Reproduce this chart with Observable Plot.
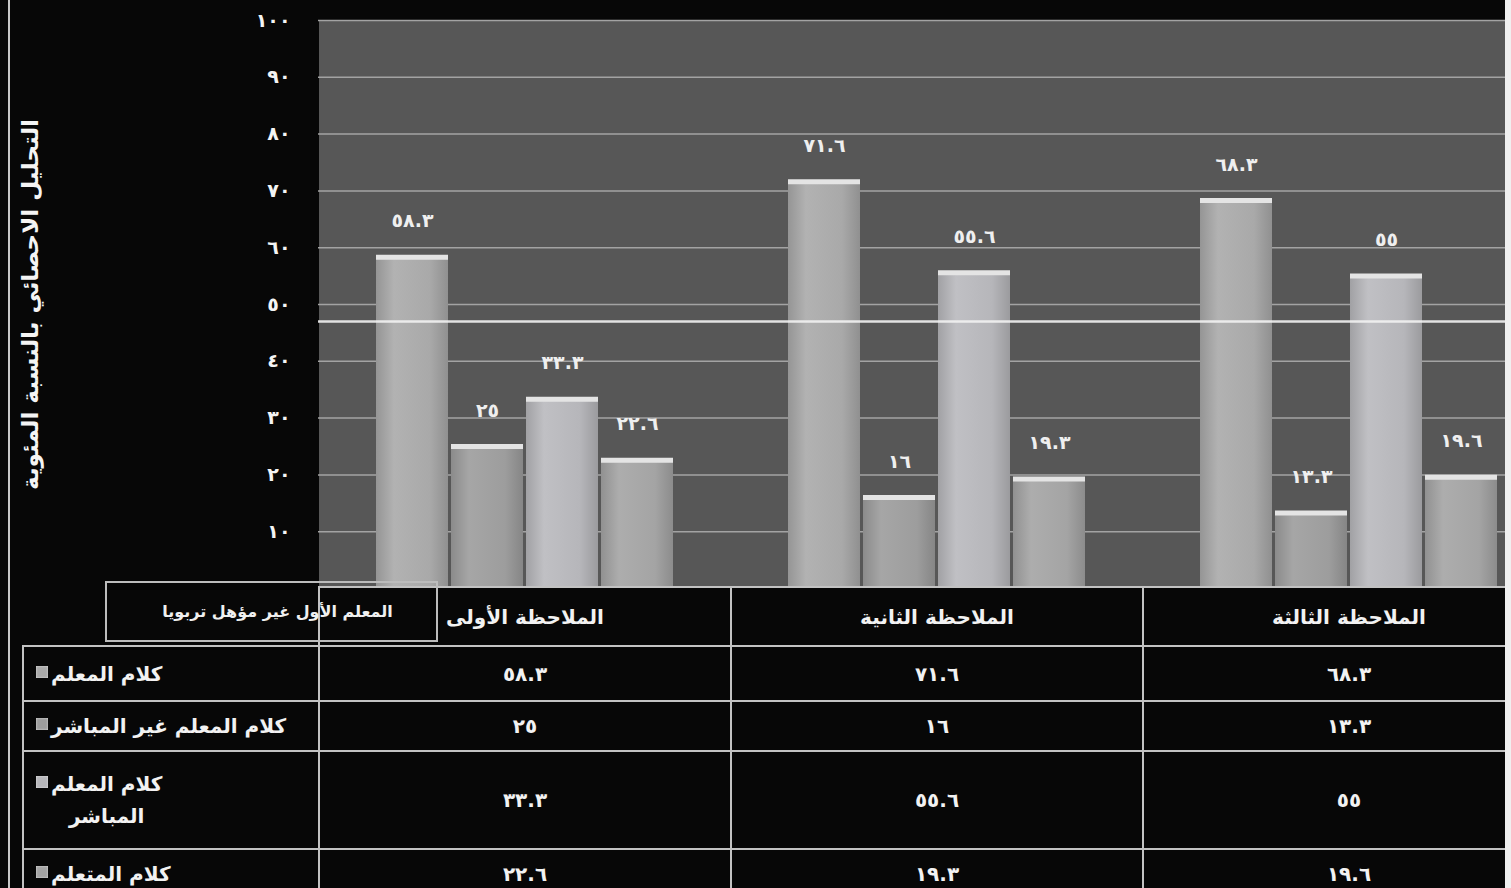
<!DOCTYPE html>
<html lang="ar">
<head>
<meta charset="utf-8">
<script src="https://cdn.jsdelivr.net/npm/d3@7"></script>
<script src="https://cdn.jsdelivr.net/npm/@observablehq/plot@0.6"></script>
<style>
  html, body { margin: 0; padding: 0; background: #f0f0f0; }
  #page {
    position: relative; width: 1505px; height: 888px; overflow: hidden;
    background: #070707; font-family: "DejaVu Sans", sans-serif;
  }
  #page::before {
    content: ""; position: absolute; left: 8px; top: 0; width: 2px; height: 888px;
    background: #c8c8c8; z-index: 4;
  }
  #chart svg { display: block; max-width: none !important; }
  #grid {
    position: absolute; left: 22px; top: 586px; width: 1532px;
    border-collapse: collapse; table-layout: fixed;
    color: #f2f2f2; font-weight: bold;
  }
  #grid td { border: 2px solid #c2c2c2; padding: 0; text-align: center; vertical-align: middle; font-size: 20px; }
  #grid tr.head td.corner { border-top: none; border-left: none; }
  #grid td.label { text-align: left; padding-left: 12px; }
  .lab { display: flex; align-items: flex-start; direction: ltr; }
  .mk { width: 12px; height: 12px; margin: 8px 3px 0 0; flex: none; box-shadow: inset 0 0 2px #eee; }
  .txt { direction: rtl; text-align: center; white-space: pre-line; line-height: 1.6; }
  #legendTitle {
    position: absolute; left: 105px; top: 581px; width: 333px; height: 61px;
    border: 2px solid #bcbcbc; z-index: 3; color: #f0f0f0;
    font-size: 16px; font-weight: bold; direction: rtl;
    display: flex; align-items: center; justify-content: center; padding-left: 12px; box-sizing: border-box;
  }
</style>
</head>
<body>
<svg width="0" height="0" style="position:absolute">
  <defs id="gradients"></defs>
</svg>
<div id="page">
  <div id="chart"></div>
  <div id="legendTitle"></div>
  <table id="grid"></table>
</div>
<script>
// Observations (groups along the horizontal axis)
const observations = ["الملاحظة الأولى", "الملاحظة الثانية", "الملاحظة الثالثة"];

// Talk categories (bars inside each group)
const seriesNames = ["كلام المعلم", "كلام المعلم غير المباشر", "كلام المعلم المباشر", "كلام المتعلم"];
const rowLabels = ["كلام المعلم", "كلام المعلم غير المباشر", "كلام المعلم\nالمباشر", "كلام المتعلم"];

// Percentages per observation
const teacherTalk  = [58.3, 71.6, 68.3];
const indirectTalk = [25, 16, 13.3];
const directTalk   = [33.3, 55.6, 55];
const learnerTalk  = [22.6, 19.3, 19.6];

const yTicks = [10, 20, 30, 40, 50, 60, 70, 80, 90, 100];
const yLabel = "التحليل الاحصائي بالنسبة المئوية";
const legendTitleText = "المعلم الأول غير مؤهل تربويا";

const barColors = ["#a9a9a9", "#9d9d9d", "#b6b6ba", "#a4a4a4"];

const seriesValues = [teacherTalk, indirectTalk, directTalk, learnerTalk];
const data = observations.flatMap((obs, i) =>
  seriesNames.map((s, j) => ({obs, series: s, value: seriesValues[j][i]}))
);

// Arabic-Indic digits for every number shown
const arabicNum = v => String(v).replace(/\d/g, c => "٠١٢٣٤٥٦٧٨٩"[+c]);

// Soft horizontal shading for the bars
const defs = d3.select("#gradients");
barColors.forEach((c, i) => {
  const g = defs.append("linearGradient").attr("id", `bar${i}`).attr("x1", 0).attr("x2", 1).attr("y1", 0).attr("y2", 0);
  const base = d3.color(c);
  g.append("stop").attr("offset", "0%").attr("stop-color", base.darker(0.35));
  g.append("stop").attr("offset", "25%").attr("stop-color", base.brighter(0.15));
  g.append("stop").attr("offset", "75%").attr("stop-color", base);
  g.append("stop").attr("offset", "100%").attr("stop-color", base.darker(0.45));
});

const chart = Plot.plot({
  width: 1554,
  height: 588,
  marginLeft: 318,
  marginRight: 0,
  marginTop: 20,
  marginBottom: 0,
  style: {background: "transparent", color: "#f2f2f2", fontFamily: "DejaVu Sans, sans-serif", maxWidth: "none"},
  fx: {domain: observations, padding: 0, axis: null},
  x: {domain: seriesNames, paddingInner: 0.04, paddingOuter: 0.76, axis: null},
  y: {domain: [0, 100], axis: null},
  color: {domain: seriesNames, range: seriesNames.map((_, i) => `url(#bar${i})`)},
  marks: [
    Plot.frame({fill: "#575757", shapeRendering: "crispEdges"}),
    Plot.gridY(yTicks, {stroke: "#a3a3a3", strokeOpacity: 1, strokeWidth: 1.5}),
    Plot.axisY(yTicks, {
      tickSize: 0, tickPadding: 28, tickFormat: arabicNum,
      fontSize: 19, fontWeight: "bold", fill: "#f4f4f4", label: null
    }),
    Plot.barY(data, {fx: "obs", x: "series", y: "value", fill: "series"}),
    Plot.tickY(data, {fx: "obs", x: "series", y: "value", stroke: "#e4e4e4", strokeWidth: 5}),
    Plot.text(data, {
      fx: "obs", x: "series", y: "value", text: d => arabicNum(d.value),
      dy: -36, fontSize: 19, fontWeight: "bold", fill: "#efefef"
    }),
    Plot.ruleY([47], {stroke: "#f2f2f2", strokeWidth: 2.5, strokeOpacity: 0.9}),
    Plot.text([yLabel], {
      fx: () => observations[0], frameAnchor: "left", textAnchor: "middle", dx: -288, rotate: -90,
      fontSize: 23, fontWeight: "bold", fill: "#f4f4f4"
    })
  ]
});
document.getElementById("chart").append(chart);

document.getElementById("legendTitle").textContent = legendTitleText;

// Data table under the chart
const table = d3.select("#grid");
const colgroup = table.append("colgroup");
colgroup.append("col").style("width", "296px");
observations.forEach(() => colgroup.append("col").style("width", "412px"));

const head = table.append("tr").attr("class", "head").style("height", "59px");
head.append("td").attr("class", "corner");
observations.forEach(o => head.append("td").text(o));

const rowHeights = [55, 50, 98, 50];
seriesNames.forEach((s, j) => {
  const tr = table.append("tr").style("height", rowHeights[j] + "px");
  const lab = tr.append("td").attr("class", "label").append("div").attr("class", "lab");
  lab.append("span").attr("class", "mk").style("background", barColors[j]);
  lab.append("span").attr("class", "txt").text(rowLabels[j]);
  seriesValues[j].forEach(v => tr.append("td").text(arabicNum(v)));
});
</script>
</body>
</html>
